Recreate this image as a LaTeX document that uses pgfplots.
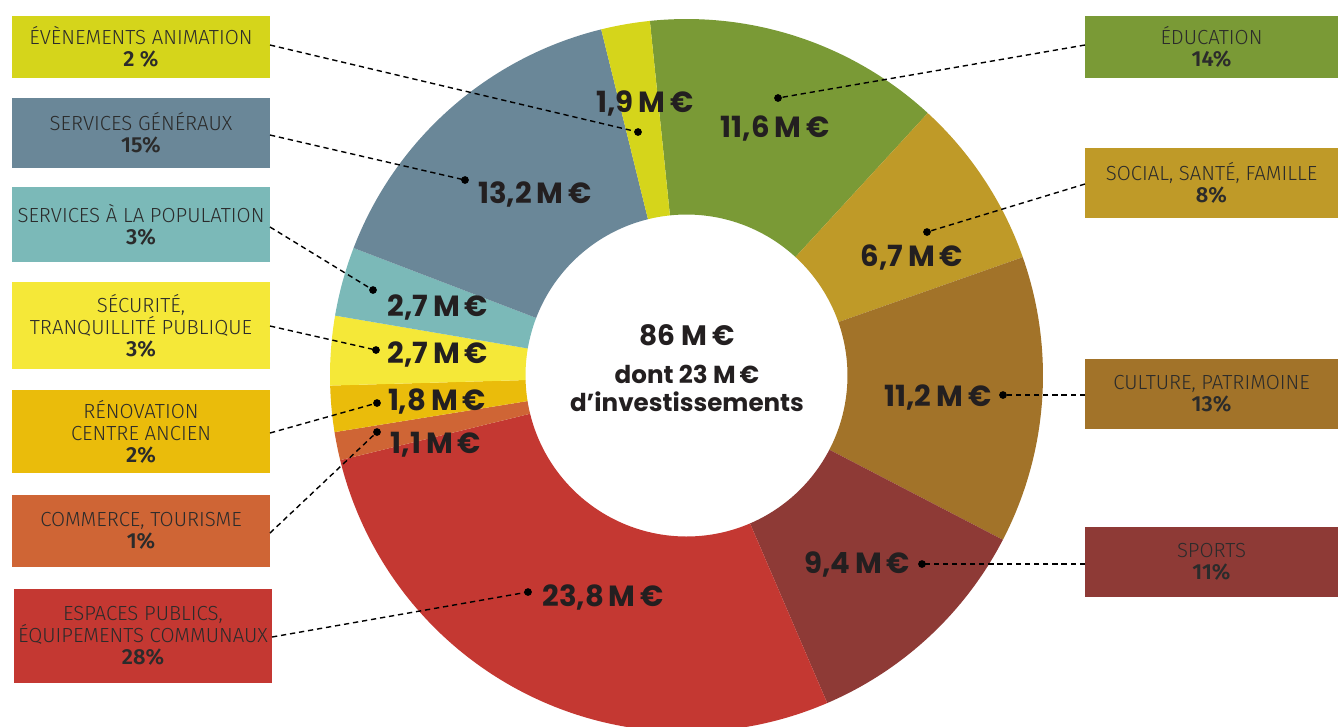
\documentclass[border=0pt]{standalone}
\usepackage{fontspec}
\setmainfont{Fira Sans Light}[BoldFont={Fira Sans SemiBold}]
\newfontfamily\pop{Poppins}
\usepackage{pgfplots}
\usepackage{pgfplotstable}
\pgfplotsset{compat=1.18}

% slice colours, clockwise from the top
\definecolor{s0}{HTML}{7A9A36}
\definecolor{s1}{HTML}{BF9A28}
\definecolor{s2}{HTML}{A27329}
\definecolor{s3}{HTML}{8E3A36}
\definecolor{s4}{HTML}{C43832}
\definecolor{s5}{HTML}{CF6535}
\definecolor{s6}{HTML}{EABC0B}
\definecolor{s7}{HTML}{F5E838}
\definecolor{s8}{HTML}{7BB9B8}
\definecolor{s9}{HTML}{6A8798}
\definecolor{s10}{HTML}{D5D51B}
\definecolor{lab}{HTML}{2B2B2B}
\definecolor{val}{HTML}{231F20}

% val = M EUR; lx,ly value label; dx,dy dot; ex,ey box end of the leader
\pgfplotstableread{
val   lx   ly   dx    dy   ex    ey
11.6  775  137  778   98   1085  45
6.7   912  266  927   232  1085  184
11.2  938  406  1003  395  1085  395
9.4   857  573  922   564  1085  564
23.8  603  606  528   592  272   637
1.1   436  453  377   432  270   533
1.8   437  410  377   403  270   433
2.7   438  363  376   350  270   326
2.7   438  316  373   290  270   227
13.2  535  203  465   180  270   135
1.9   645  112  638   132  270   45
}\slices

\def\Ro{3.565cm}
\def\Ri{1.61cm}
\def\Rw{1.955cm}
\def\start{95.9}
\newcommand\boxfont{\fontsize{5.8}{6.3}\selectfont}
\newcommand\valfont{\pop\bfseries\fontsize{8.3}{9}\selectfont}
\newcommand\labbox[6]{%
  \fill[#5] (axis cs:#1,#2) rectangle (axis cs:#3,#4);
  \node[align=center, text=lab, font=\boxfont, inner sep=0pt]
    at (axis cs:{(#1+#3)/2},{(#2+#4)/2}) {#6};}
\newcommand\pct[1]{\textbf{\fontsize{6.2}{6.3}\selectfont #1}}

\begin{document}
\begin{tikzpicture}
\gdef\tot{0}
\foreach \i in {0,...,10}{%
  \pgfplotstablegetelem{\i}{val}\of\slices
  \pgfmathsetmacro\tmp{\tot+\pgfplotsretval}%
  \xdef\tot{\tmp}%
}
\gdef\cum{0}
\foreach \i in {0,...,10}{%
  \pgfplotstablegetelem{\i}{val}\of\slices
  \let\sv\pgfplotsretval
  \pgfmathsetmacro\angA{\start-\cum/\tot*360}%
  \pgfmathsetmacro\angB{\start-(\cum+\sv)/\tot*360}%
  \pgfmathsetmacro\tmp{\cum+\sv}%
  \expandafter\xdef\csname v\i\endcsname{\sv}%
  \expandafter\xdef\csname sa\i\endcsname{\angA}%
  \expandafter\xdef\csname sb\i\endcsname{\angB}%
  \xdef\cum{\tmp}%
  \foreach \col in {lx,ly,dx,dy,ex,ey}{%
    \pgfplotstablegetelem{\i}{\col}\of\slices
    \expandafter\xdef\csname\col\i\endcsname{\pgfplotsretval}%
  }%
}
\begin{axis}[
  width=13.38cm, height=7.26cm, scale only axis,
  xmin=0, xmax=1338, ymin=0, ymax=726,
  y dir=reverse, hide axis, clip=true,
]
\coordinate (bl) at (rel axis cs:0,0);
\coordinate (tr) at (rel axis cs:1,1);

% donut slices
\pgfplotsinvokeforeach{0,...,10}{%
  \fill[s#1] (axis cs:686.5,375.5) ++({\csname sa#1\endcsname}:\Ro)
    arc[start angle=\csname sa#1\endcsname, end angle=\csname sb#1\endcsname, radius=\Ro]
    -- ++({\csname sb#1\endcsname+180}:\Rw)
    arc[start angle=\csname sb#1\endcsname, end angle=\csname sa#1\endcsname, radius=\Ri]
    -- cycle;
}

% boxes, left
\labbox{12}{16}{270}{78}{s10}{ÉVÈNEMENTS ANIMATION\\\pct{2 \%}}
\labbox{12}{98}{270}{168}{s9}{SERVICES GÉNÉRAUX\\\pct{15\%}}
\labbox{12}{187}{270}{262}{s8}{SERVICES À LA POPULATION\\\pct{3\%}}
\labbox{12}{282}{270}{369}{s7}{SÉCURITÉ,\\TRANQUILLITÉ PUBLIQUE\\\pct{3\%}}
\labbox{12}{390}{270}{473}{s6}{RÉNOVATION\\CENTRE ANCIEN\\\pct{2\%}}
\labbox{12}{495}{270}{567}{s5}{COMMERCE, TOURISME\\\pct{1\%}}
\labbox{14}{589}{272}{683}{s4}{ESPACES PUBLICS,\\ÉQUIPEMENTS COMMUNAUX\\\pct{28\%}}
% boxes, right
\labbox{1085}{16}{1338}{78}{s0}{ÉDUCATION\\\pct{14\%}}
\labbox{1085}{148}{1338}{218}{s1}{SOCIAL, SANTÉ, FAMILLE\\\pct{8\%}}
\labbox{1085}{359}{1338}{429}{s2}{CULTURE, PATRIMOINE\\\pct{13\%}}
\labbox{1085}{527}{1338}{597}{s3}{SPORTS\\\pct{11\%}}

% leaders, dots and values
\pgfplotsinvokeforeach{0,...,10}{%
  \draw[black, line width=0.4pt, dash pattern=on 1.5pt off 1.1pt]
    (axis cs:\csname ex#1\endcsname,\csname ey#1\endcsname)
    -- (axis cs:\csname dx#1\endcsname,\csname dy#1\endcsname);
  \fill[black] (axis cs:\csname dx#1\endcsname,\csname dy#1\endcsname) circle[radius=1.1pt];
  \node[anchor=base, text=val, font=\valfont, inner sep=0pt]
    at (axis cs:\csname lx#1\endcsname,\csname ly#1\endcsname)
    {\pgfmathprintnumber[assume math mode=true, use comma, fixed, fixed zerofill, precision=1]{\csname v#1\endcsname}\,M\,€};
}

% centre
\node[anchor=base, text=val, font=\pop\bfseries\fontsize{8}{8}\selectfont, inner sep=0pt]
  at (axis cs:687,345) {86 M\,€};
\node[anchor=base, text=val, font=\pop\bfseries\fontsize{7}{7}\selectfont, inner sep=0pt]
  at (axis cs:687,383) {dont 23 M\,€};
\node[anchor=base, text=val, font=\pop\bfseries\fontsize{7}{7}\selectfont, inner sep=0pt]
  at (axis cs:687,411) {d’investissements};
\end{axis}
\pgfresetboundingbox
\path (bl) rectangle (tr);
\end{tikzpicture}
\end{document}
